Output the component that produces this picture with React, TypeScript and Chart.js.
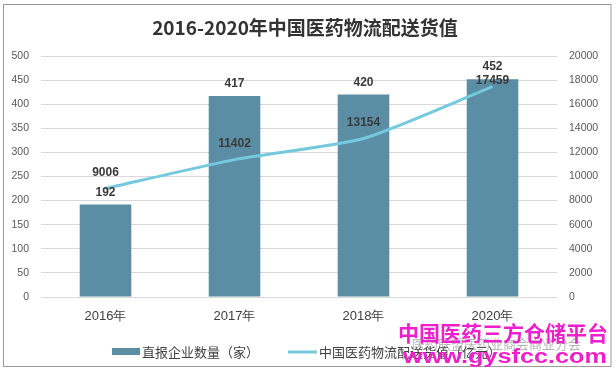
import React, { useEffect, useRef } from "react";
import { Chart, registerables } from "chart.js";

Chart.register(...registerables);

const titleText = "2016-2020年中国医药物流配送货值";
const categories = ["2016年", "2017年", "2018年", "2020年"];
const barLabel = "直报企业数量（家）";
const barValues = [192, 417, 420, 452];
const lineLabel = "中国医药物流配送货值（亿元）";
const lineValues = [9006, 11402, 13154, 17459];
const leftTicks = { min: 0, max: 500, step: 50 };
const rightTicks = { min: 0, max: 20000, step: 2000 };
const watermarkMain = "中国医药三方仓储平台";
const watermarkUrl = "www.gysfcc.com";
const watermarkGray = "医药联盟医药业商会商业分会";

const BAR_COLOR = "#5b8ea4";
const LINE_COLOR = "#74c9df";
const CJK = '"Noto Sans CJK SC", "Noto Sans", sans-serif';
const LATIN = '"Liberation Sans", "Noto Sans", sans-serif';
const lineLabelOffsets = [16, 16, 16, 6];
const barLabelOffset = 12;

const framePlugin = {
  id: "frame",
  beforeDraw(chart: any) {
    const ctx = chart.ctx;
    ctx.save();
    ctx.fillStyle = "#ffffff";
    ctx.fillRect(0, 0, chart.width, chart.height);
    ctx.strokeStyle = "#9a9a9a";
    ctx.lineWidth = 1;
    ctx.strokeRect(3.5, 4.5, 607.5, 362);
    ctx.fillStyle = "#333333";
    ctx.font = `bold 19px ${CJK}`;
    ctx.textAlign = "center";
    ctx.textBaseline = "middle";
    ctx.fillText(titleText, 305, 28);
    ctx.restore();
  },
};

const labelsPlugin = {
  id: "valueLabels",
  afterDatasetsDraw(chart: any) {
    const ctx = chart.ctx;
    ctx.save();
    ctx.font = `bold 12px ${LATIN}`;
    ctx.fillStyle = "#3a3a3a";
    ctx.textAlign = "center";
    ctx.textBaseline = "middle";
    chart.data.datasets.forEach((ds: any, di: number) => {
      const meta = chart.getDatasetMeta(di);
      meta.data.forEach((el: any, i: number) => {
        const v = ds.data[i];
        const off = ds.type === "line" ? lineLabelOffsets[i] : barLabelOffset;
        ctx.fillText(String(v), el.x, el.y - off);
      });
    });
    ctx.restore();
  },
};

const legendPlugin = {
  id: "customLegend",
  afterDraw(chart: any) {
    const ctx = chart.ctx;
    const ds = chart.data.datasets;
    ctx.save();
    ctx.font = `13px ${CJK}`;
    ctx.textBaseline = "middle";
    ctx.textAlign = "left";
    const y = 352;
    ctx.fillStyle = ds[0].backgroundColor;
    ctx.fillRect(112, y - 4, 28, 7);
    ctx.fillStyle = "#404040";
    ctx.fillText(ds[0].label, 142, y);
    ctx.strokeStyle = ds[1].borderColor;
    ctx.lineWidth = 3;
    ctx.beginPath();
    ctx.moveTo(288, y);
    ctx.lineTo(317, y);
    ctx.stroke();
    ctx.fillText(ds[1].label, 319, y);

    // watermark overlay
    ctx.fillStyle = "rgba(120,120,120,0.55)";
    ctx.font = `13px ${CJK}`;
    ctx.fillText(watermarkGray, 412, 344);
    ctx.fillStyle = "#ef1fcb";
    ctx.font = `bold 21px ${CJK}`;
    ctx.fillText(watermarkMain, 398, 333);
    ctx.font = `bold 20px ${LATIN}`;
    const w = ctx.measureText(watermarkUrl).width;
    ctx.translate(403, 357);
    ctx.scale(204 / w, 1);
    ctx.fillText(watermarkUrl, 0, 0);
    ctx.restore();
  },
};

const plain = (v: any) => String(v);

export default function App() {
  const ref = useRef<HTMLCanvasElement | null>(null);
  useEffect(() => {
    document.body.style.margin = "0";
    if (!ref.current) return;
    const chart = new Chart(ref.current, {
      type: "bar",
      data: {
        labels: categories,
        datasets: [
          {
            type: "bar",
            label: barLabel,
            data: barValues,
            backgroundColor: BAR_COLOR,
            yAxisID: "y",
            categoryPercentage: 1,
            barPercentage: 0.4,
            order: 2,
          } as any,
          {
            type: "line",
            label: lineLabel,
            data: lineValues,
            borderColor: LINE_COLOR,
            backgroundColor: LINE_COLOR,
            borderWidth: 3,
            pointRadius: 0,
            tension: 0.2,
            yAxisID: "y1",
            order: 1,
          } as any,
        ],
      },
      options: {
        responsive: false,
        animation: false,
        layout: { padding: { top: 56, left: 0, right: 0, bottom: 0 } },
        plugins: {
          legend: { display: false },
          title: { display: false },
          tooltip: { enabled: false },
        },
        scales: {
          x: {
            grid: { display: false, drawTicks: false },
            border: { display: false },
            ticks: { color: "#404040", font: { size: 13, family: LATIN }, padding: 12 },
            afterFit: (s: any) => { s.height = 74; },
          },
          y: {
            position: "left",
            min: leftTicks.min,
            max: leftTicks.max,
            ticks: { stepSize: leftTicks.step, color: "#595959", font: { size: 10.5, family: LATIN }, padding: 12, callback: plain },
            grid: { color: "#d9d9d9", drawTicks: false },
            border: { display: false },
            afterFit: (s: any) => { s.width = 41; },
          },
          y1: {
            position: "right",
            min: rightTicks.min,
            max: rightTicks.max,
            ticks: { stepSize: rightTicks.step, color: "#595959", font: { size: 10.5, family: LATIN }, padding: 12, callback: plain },
            grid: { display: false, drawTicks: false },
            border: { display: false },
            afterFit: (s: any) => { s.width = 59; },
          },
        },
      },
      plugins: [framePlugin, labelsPlugin, legendPlugin],
    });
    return () => chart.destroy();
  }, []);
  return (
    <div style={{ width: 616, height: 371 }}>
      <canvas ref={ref} width={616} height={371} style={{ display: "block" }} />
    </div>
  );
}
